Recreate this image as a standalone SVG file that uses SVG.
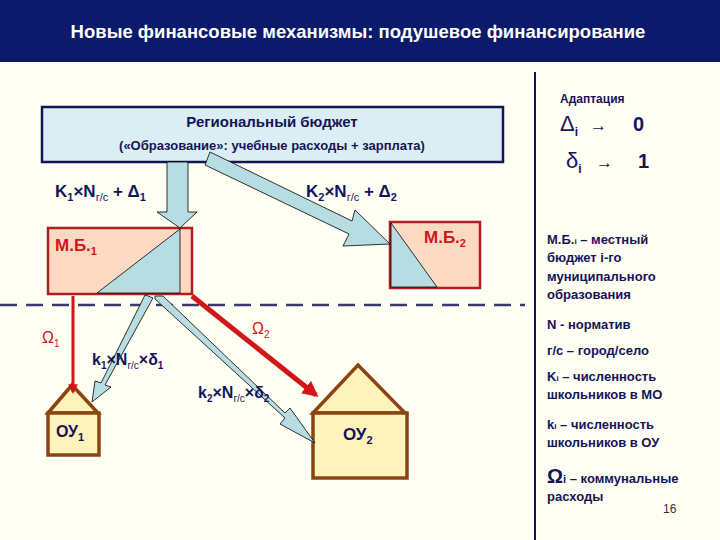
<svg xmlns="http://www.w3.org/2000/svg" width="720" height="540" viewBox="0 0 720 540">
<defs>
<style>
text{font-family:"Liberation Sans",Arial,sans-serif;font-weight:bold;fill:#14145a}
.n{font-weight:normal}
.red{fill:#d0161a}
.leg{font-size:13px}
.bl{fill:#b7dce2;stroke:#000;stroke-width:0.8}
.house{fill:#fff3bb;stroke:#8b4513;stroke-width:3.5}
</style>
<marker id="rh" viewBox="0 0 10 10" refX="8" refY="5" markerWidth="3.2" markerHeight="3.2" orient="auto"><path d="M0,0L10,5L0,10z" fill="#d0161a"/></marker>
</defs>
<rect width="720" height="540" fill="#fffff4"/>
<rect width="720" height="62" fill="#0b1a6b"/>
<text x="358" y="38" text-anchor="middle" font-size="18.5" style="fill:#fff">Новые финансовые механизмы: подушевое финансирование</text>
<line x1="535" y1="72" x2="535" y2="540" stroke="#14145a" stroke-width="2"/>
<line x1="0" y1="305" x2="525" y2="305" stroke="#3a3a6a" stroke-width="2.5" stroke-dasharray="17,9"/>
<g id="reg"><rect x="42" y="107" width="461" height="55" fill="#dbeef4" stroke="#14145a" stroke-width="2.5"/>
<text x="272" y="127" text-anchor="middle" font-size="15">Региональный бюджет</text>
<text x="272" y="150" text-anchor="middle" font-size="13">(«Образование»: учебные расходы +  зарплата)</text></g>
<g id="mb1"><rect x="48" y="228" width="144" height="66" fill="#fbd9c3" stroke="#b01e1e" stroke-width="2.5"/>
<polygon points="180,229 180,293 97,293" fill="#b7dce2" stroke="#000" stroke-width="0.8"/>
<text x="55" y="251" font-size="17" class="red">М.Б.<tspan font-size="11" dy="4">1</tspan></text></g>
<g id="mb2"><rect x="390" y="222" width="90" height="66" fill="#fbd9c3" stroke="#b01e1e" stroke-width="2.5"/>
<polygon points="391,223 391,287 437,287" fill="#b7dce2" stroke="#000" stroke-width="0.8"/>
<text x="424" y="243" font-size="17" class="red">М.Б.<tspan font-size="11" dy="4">2</tspan></text></g>
<g id="ou1"><polygon points="48,413 72,385 98,413" class="house"/><rect x="48" y="413" width="51" height="42" class="house"/>
<text x="56" y="437" font-size="16">ОУ<tspan font-size="11" dy="4">1</tspan></text></g>
<g id="ou2"><polygon points="313,413 358,365 405,413" class="house"/><rect x="313" y="413" width="94" height="65" class="house"/>
<text x="343" y="440" font-size="17">ОУ<tspan font-size="11" dy="4">2</tspan></text></g>
<g id="connectors">
<polygon points="167,162 188,162 188,212 197,212 180,228 157,212 167,212" class="bl"/>
<polygon points="205,165 349,234 343,246 390,244 355,210 352,221 210,152" class="bl"/>
<polygon points="148,296 153,298 105,385 111,387 92,402 95,381 101,383 145,295" class="bl"/>
<polygon points="155,296 163,296 285,413 290,408 315,443 280,424 285,418 155,299" class="bl"/>
<line x1="73" y1="296" x2="73" y2="392" stroke="#d0161a" stroke-width="3" marker-end="url(#rh)"/>
<line x1="192" y1="296" x2="316" y2="395" stroke="#d0161a" stroke-width="5" marker-end="url(#rh)"/>
</g>
<text x="55" y="197" font-size="17">K<tspan font-size="11" dy="4">1</tspan><tspan dy="-4">×N</tspan><tspan font-size="11" dy="4" class="n">г/с</tspan><tspan dy="-4"> + Δ</tspan><tspan font-size="11" dy="4">1</tspan></text>
<text x="306" y="197" font-size="17">K<tspan font-size="11" dy="4">2</tspan><tspan dy="-4">×N</tspan><tspan font-size="11" dy="4" class="n">г/с</tspan><tspan dy="-4"> + Δ</tspan><tspan font-size="11" dy="4">2</tspan></text>
<text x="42" y="343" font-size="16" class="red n">Ω<tspan font-size="10" dy="4">1</tspan></text>
<text x="252" y="334" font-size="16" class="red n">Ω<tspan font-size="10" dy="4">2</tspan></text>
<text x="92" y="365" font-size="16">k<tspan font-size="10" dy="4">1</tspan><tspan dy="-4">×N</tspan><tspan font-size="10" dy="4" class="n">г/с</tspan><tspan dy="-4">×δ</tspan><tspan font-size="10" dy="4">1</tspan></text>
<text x="198" y="398" font-size="16">k<tspan font-size="10" dy="4">2</tspan><tspan dy="-4">×N</tspan><tspan font-size="10" dy="4" class="n">г/с</tspan><tspan dy="-4">×δ</tspan><tspan font-size="10" dy="4">2</tspan></text>
<text x="560" y="103" font-size="12">Адаптация</text>
<text x="560" y="131" font-size="22" class="n">Δ<tspan font-size="12" dy="5" style="font-weight:bold">i</tspan><tspan x="590" dy="-5" font-size="17">→</tspan><tspan x="633" style="font-weight:bold" font-size="20">0</tspan></text>
<text x="566" y="168" font-size="22" class="n">δ<tspan font-size="12" dy="5" style="font-weight:bold">i</tspan><tspan x="596" dy="-5" font-size="17">→</tspan><tspan x="638" style="font-weight:bold" font-size="20">1</tspan></text>
<text class="leg" x="547" y="244">М.Б.<tspan font-size="8">i</tspan> – местный</text>
<text class="leg" x="547" y="262">бюджет i-го</text>
<text class="leg" x="547" y="281">муниципального</text>
<text class="leg" x="547" y="299">образования</text>
<text class="leg" x="547" y="329">N - норматив</text>
<text class="leg" x="547" y="355">г/с – город/село</text>
<text class="leg" x="547" y="381">K<tspan font-size="8">i</tspan> – численность</text>
<text class="leg" x="547" y="399">школьников в МО</text>
<text class="leg" x="547" y="429">k<tspan font-size="8">i</tspan> – численность</text>
<text class="leg" x="547" y="447">школьников в ОУ</text>
<text class="leg" x="547" y="483"><tspan font-size="20">Ω</tspan><tspan font-size="11">i</tspan> – коммунальные</text>
<text class="leg" x="547" y="501">расходы</text>
<text x="663" y="513" font-size="12" class="n" style="fill:#333">16</text>
</svg>
